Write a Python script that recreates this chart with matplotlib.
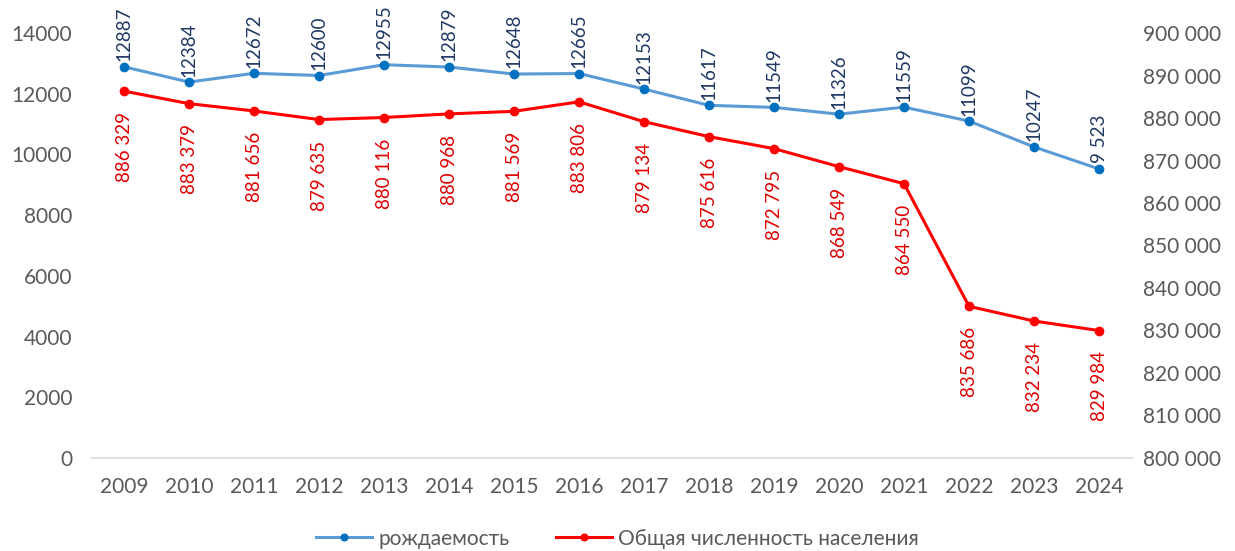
import matplotlib
matplotlib.use("Agg")
import matplotlib.pyplot as plt
from matplotlib.ticker import FuncFormatter

plt.rcParams['font.family'] = ['Lato', 'DejaVu Sans']

years = ['2009', '2010', '2011', '2012', '2013', '2014', '2015', '2016',
         '2017', '2018', '2019', '2020', '2021', '2022', '2023', '2024']
births = [12887, 12384, 12672, 12600, 12955, 12879, 12648, 12665,
          12153, 11617, 11549, 11326, 11559, 11099, 10247, 9523]
births_labels = ['12887', '12384', '12672', '12600', '12955', '12879', '12648', '12665',
                 '12153', '11617', '11549', '11326', '11559', '11099', '10247', '9 523']
population = [886329, 883379, 881656, 879635, 880116, 880968, 881569, 883806,
              879134, 875616, 872795, 868549, 864550, 835686, 832234, 829984]

GREY = '#595959'

def space_thousands(v, pos=None):
    return '{:,}'.format(int(v)).replace(',', ' ')

fig = plt.figure(figsize=(12.35, 5.51), dpi=100)
ax = fig.add_axes([0.0741, 0.1688, 0.8421, 0.7713])
ax2 = ax.twinx()

x = list(range(len(years)))
l1, = ax.plot(x, births, color='#5B9BD5', lw=2.2, marker='o', ms=6,
              mfc='#0070C0', mec='#0070C0', label='рождаемость')
l2, = ax2.plot(x, population, color='#FF0000', lw=2.2, marker='o', ms=6,
               mfc='#FF0000', mec='#FF0000', label='Общая численность населения')

for xi, v, t in zip(x, births, births_labels):
    ax.annotate(t, (xi, v), xytext=(0, 4), textcoords='offset points',
                rotation=90, ha='center', va='bottom', fontsize=13.5, color='#1F3864')
for xi, v in zip(x, population):
    ax2.annotate(space_thousands(v), (xi, v), xytext=(0, -15), textcoords='offset points',
                 rotation=90, ha='center', va='top', fontsize=13.5, color='#E00000')

ax.set_xlim(-0.5, len(years) - 0.5)
ax.set_ylim(0, 14000)
ax.set_yticks(range(0, 14001, 2000))
ax2.set_ylim(800000, 900000)
ax2.set_yticks(range(800000, 900001, 10000))
ax2.yaxis.set_major_formatter(FuncFormatter(space_thousands))
ax.set_xticks(x)
ax.set_xticklabels(years)

for a in (ax, ax2):
    for s in a.spines.values():
        s.set_visible(False)
    a.tick_params(length=0, labelsize=15, labelcolor=GREY)
ax.spines['bottom'].set_visible(True)
ax.spines['bottom'].set_color('#D9D9D9')
ax.spines['bottom'].set_linewidth(1.2)
ax.tick_params(axis='x', pad=14)
ax.tick_params(axis='y', pad=14)
ax2.tick_params(axis='y', pad=8)

fig.legend(handles=[l1, l2], loc='lower center', bbox_to_anchor=(0.5, -0.03),
           ncol=2, frameon=False, fontsize=15, labelcolor=GREY,
           handlelength=2.7, handletextpad=0.3, columnspacing=2.2, markerscale=0.8)

fig.savefig('out.png', dpi=100)
